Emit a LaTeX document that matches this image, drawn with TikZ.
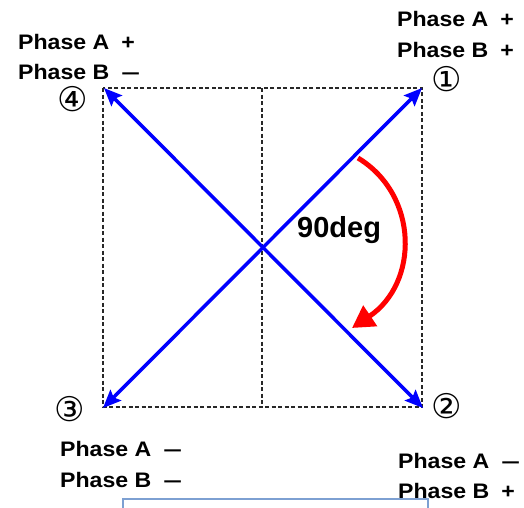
\documentclass[tikz,border=0pt]{standalone}
\usepackage{fontspec}
\setmainfont{Liberation Sans}
\newfontfamily\labelfont[FakeStretch=1.1]{Liberation Sans}
\newfontfamily\circfont{DejaVu Sans}
\usetikzlibrary{arrows.meta}
\definecolor{boxblue}{RGB}{125,160,210}
\definecolor{dashgray}{RGB}{40,40,40}
\definecolor{vecblue}{RGB}{0,0,255}
\newcommand{\phlabel}[2]{Phase #1\hspace{12pt}#2}
\newcommand{\longdash}{\scalebox{1.45}[1]{–}}
\tikzset{
  phaselabel/.style={anchor=base west, inner sep=0pt, font=\labelfont\fontsize{21}{24}\selectfont\bfseries},
  circnum/.style={inner sep=0pt, font=\circfont\fontsize{34}{36}\selectfont},
  vecarrow/.style={draw=vecblue, line width=3.5pt, {Stealth[length=18pt,width=15pt,inset=3pt]}-{Stealth[length=18pt,width=15pt,inset=3pt]}},
  rotarrow/.style={draw=red, line width=5pt, -{Triangle[length=22pt,width=24pt]}},
  gridline/.style={draw=dashgray, line width=2.2pt, dash pattern=on 4pt off 2.5pt},
}
\begin{document}
\begin{tikzpicture}[x=1pt,y=-1pt]
\useasboundingbox (0,0) rectangle (524,507);
% dashed frame
\draw[gridline] (103,88) rectangle (422,407);
\draw[gridline] (262,88) -- (262,407);
% corner coordinates
\coordinate (c1) at (422,88);
\coordinate (c2) at (423,408);
\coordinate (c3) at (103,408);
\coordinate (c4) at (104,88);
% vectors
\draw[vecarrow] (c3) -- (c1);
\draw[vecarrow] (c4) -- (c2);
% rotation arrow
\coordinate (rs) at (358,158);
\coordinate (re) at (352,328);
\draw[rotarrow] (rs) .. controls (419,195) and (419,283) .. (re);
\node[anchor=base west, inner sep=0pt, font=\fontsize{29}{32}\selectfont\bfseries] (deg) at (297,237) {90deg};
% circled numbers
\node[circnum] (n1) at (447,79) {①};
\node[circnum] (n2) at (447,406) {②};
\node[circnum] (n3) at (70,409) {③};
\node[circnum] (n4) at (73,99) {④};
% labels
\node[phaselabel] (l1a) at (397,26) {\phlabel{A}{+}};
\node[phaselabel] (l1b) at (397,57) {\phlabel{B}{+}};
\node[phaselabel] (l4a) at (18,49) {\phlabel{A}{+}};
\node[phaselabel] (l4b) at (18,79) {\phlabel{B}{\longdash}};
\node[phaselabel] (l3a) at (60,456) {\phlabel{A}{\longdash}};
\node[phaselabel] (l3b) at (60,487) {\phlabel{B}{\longdash}};
\node[phaselabel] (l2a) at (398,468) {\phlabel{A}{\longdash}};
\node[phaselabel] (l2b) at (398,498) {\phlabel{B}{+}};
% box edge at bottom
\draw[boxblue, line width=2pt] (123,515) -- (123,499) -- (428,499) -- (428,515);
\end{tikzpicture}
\end{document}
